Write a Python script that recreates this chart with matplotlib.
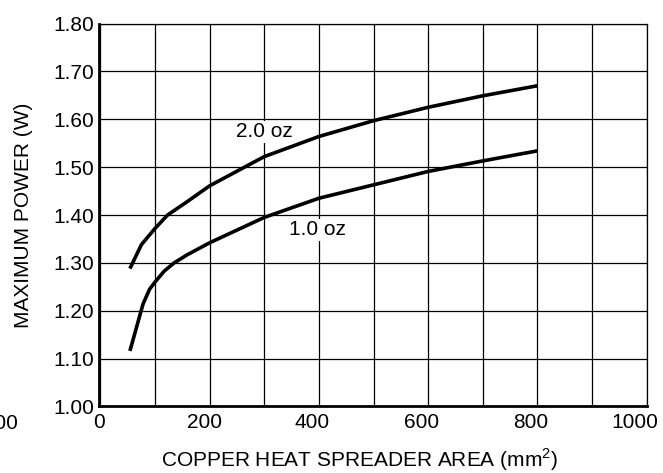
import matplotlib
matplotlib.use("Agg")
import matplotlib.pyplot as plt

plt.rcParams['font.family'] = ['Liberation Sans', 'DejaVu Sans']
plt.rcParams['mathtext.fontset'] = 'custom'
plt.rcParams['mathtext.rm'] = 'Liberation Sans'

# data
area_2oz = [54, 75, 100, 123, 159, 200, 300, 400, 500, 600, 700, 800]
power_2oz = [1.288, 1.338, 1.372, 1.400, 1.428, 1.461, 1.522, 1.564, 1.597, 1.625, 1.649, 1.670]
area_1oz = [54, 66, 78, 90, 100, 117, 135, 159, 200, 300, 400, 500, 600, 700, 800]
power_1oz = [1.116, 1.165, 1.214, 1.245, 1.260, 1.283, 1.300, 1.317, 1.342, 1.395, 1.435, 1.463, 1.491, 1.513, 1.534]

xtick_labels = ['0', '200', '400', '600', '800', '1000']
xtick_pos = [-2, 190, 388, 588, 787, 978]   # labels sit slightly left of the grid
yticks = [1.00, 1.10, 1.20, 1.30, 1.40, 1.50, 1.60, 1.70, 1.80]

FS = 15

fig = plt.figure(figsize=(6.63, 4.73), dpi=100)
ax = fig.add_axes([0.1498, 0.1406, 0.8256, 0.8097])

ax.plot(area_2oz, power_2oz, color='black', lw=2.6, solid_capstyle='butt', zorder=3)
ax.plot(area_1oz, power_1oz, color='black', lw=2.6, solid_capstyle='butt', zorder=3)

ax.set_xlim(0, 1000)
ax.set_ylim(1.0, 1.8)

# grid on minor ticks every 100, labels on major ticks
ax.set_xticks(range(0, 1001, 100), minor=True)
ax.set_xticks(xtick_pos)
ax.set_xticklabels(xtick_labels)
ax.set_yticks(yticks)
ax.set_yticklabels([f"{v:.2f}" for v in yticks])
ax.grid(True, which='minor', axis='x', color='black', lw=0.9)
ax.grid(True, which='major', axis='y', color='black', lw=0.9)
ax.set_axisbelow(True)
ax.tick_params(which='both', length=0, colors='black')
ax.tick_params(axis='x', labelsize=FS, pad=5)
ax.tick_params(axis='y', labelsize=FS, pad=3.5)

for side in ['left', 'bottom']:
    ax.spines[side].set_linewidth(2.0)
for side in ['top', 'right']:
    ax.spines[side].set_linewidth(0.9)

ax.set_xlabel('COPPER HEAT SPREADER AREA (mm$^{2}$)', fontsize=FS)
ax.xaxis.set_label_coords(0.476, -0.105)
ax.set_ylabel('MAXIMUM POWER (W)', fontsize=FS)
ax.yaxis.set_label_coords(-0.122, 0.5)

ax.text(301, 1.574, '2.0 oz', fontsize=FS, ha='center', va='center',
        bbox=dict(facecolor='white', edgecolor='none', pad=1), zorder=2)
ax.text(398, 1.369, '1.0 oz', fontsize=FS, ha='center', va='center',
        bbox=dict(facecolor='white', edgecolor='none', pad=1), zorder=2)

# clipped label of a neighbouring chart at the left edge
fig.text(0.027, 0.1036, '1000', fontsize=FS, ha='right', va='center')

fig.savefig('out.png', dpi=100)
